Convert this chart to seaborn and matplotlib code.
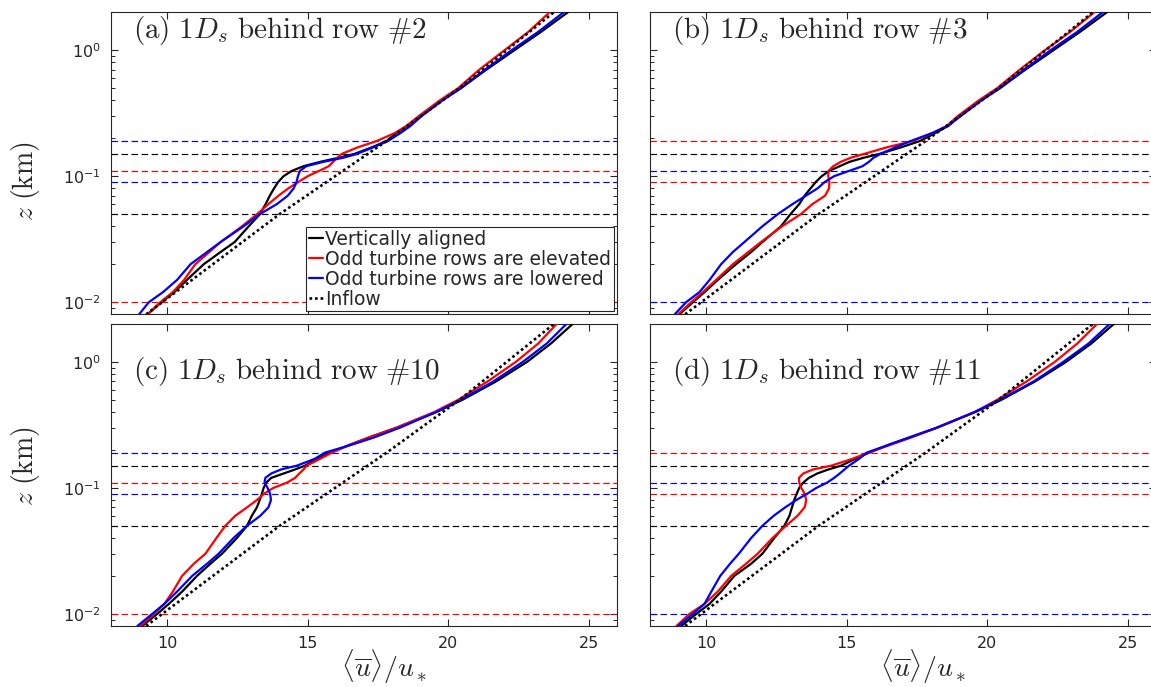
import numpy as np
import pandas as pd
import matplotlib
matplotlib.use("Agg")
import matplotlib.pyplot as plt
from matplotlib.lines import Line2D
from matplotlib.ticker import LogLocator, NullFormatter, FixedLocator
import seaborn as sns

# ---------------------------------------------------------------- data
# heights (km) at which the mean streamwise velocity profiles are given
z_km = [0.008, 0.010, 0.012, 0.015, 0.020, 0.025, 0.030, 0.040, 0.050, 0.060,
        0.070, 0.080, 0.090, 0.100, 0.110, 0.120, 0.130, 0.140, 0.150, 0.170,
        0.190, 0.220, 0.250, 0.300, 0.400, 0.500, 0.700, 1.000, 1.400, 2.000]

# inflow profile <u>/u*
inflow_z = [0.008, 0.050, 0.190, 0.500, 2.000]
inflow_u = [9.25, 14.00, 17.80, 20.40, 23.75]

# (a) 1 Ds behind row #2
row2_aligned = [9.30, 9.80, 10.25, 10.70, 11.30, 11.90, 12.40, 12.90, 13.30, 13.50,
                13.65, 13.80, 13.95, 14.14, 14.43, 14.85, 15.45, 16.10, 16.65, 17.30,
                17.80, 18.15, 18.55, 19.00, 19.75, 20.45, 21.35, 22.35, 23.30, 24.25]
row2_elevated = [9.30, 9.76, 10.20, 10.60, 11.00, 11.50, 11.90, 12.66, 13.20, 13.60,
                 13.96, 14.31, 14.67, 15.00, 15.40, 15.75, 15.90, 16.05, 16.20, 16.80,
                 17.45, 18.10, 18.50, 18.95, 19.70, 20.35, 21.10, 22.00, 22.85, 23.60]
row2_lowered = [9.00, 9.35, 9.85, 10.35, 10.83, 11.42, 11.90, 12.72, 13.30, 13.90,
                14.29, 14.50, 14.60, 14.65, 14.72, 14.95, 15.56, 16.26, 16.74, 17.35,
                17.85, 18.30, 18.65, 19.05, 19.80, 20.45, 21.30, 22.25, 23.20, 24.10]

# (b) 1 Ds behind row #3
row3_aligned = [9.05, 9.53, 9.94, 10.41, 11.06, 11.60, 12.00, 12.66, 13.00, 13.31,
                13.50, 13.71, 13.90, 14.11, 14.37, 14.75, 15.10, 15.60, 16.15, 16.95,
                17.60, 18.15, 18.60, 19.00, 19.75, 20.45, 21.35, 22.35, 23.30, 24.25]
row3_elevated = [9.00, 9.47, 9.88, 10.35, 10.95, 11.50, 11.95, 12.70, 13.37, 13.78,
                 14.23, 14.37, 14.38, 14.34, 14.35, 14.52, 14.79, 15.14, 15.61, 16.45,
                 17.35, 18.05, 18.55, 18.95, 19.70, 20.35, 21.15, 22.05, 22.95, 23.80]
row3_lowered = [8.88, 9.29, 9.76, 10.12, 10.53, 10.95, 11.36, 12.00, 12.55, 13.07,
                13.55, 13.96, 14.22, 14.55, 15.08, 15.56, 15.79, 15.95, 16.20, 16.74,
                17.27, 18.04, 18.60, 19.05, 19.80, 20.45, 21.30, 22.25, 23.20, 24.10]

# (c) 1 Ds behind row #10
row10_aligned = [9.11, 9.65, 10.06, 10.53, 11.06, 11.54, 11.95, 12.48, 12.84, 13.01,
                 13.19, 13.29, 13.37, 13.43, 13.52, 13.70, 14.14, 14.55, 14.90, 15.32,
                 15.79, 16.50, 17.15, 18.15, 19.57, 20.50, 21.70, 22.80, 23.65, 24.42]
row10_elevated = [9.05, 9.53, 9.90, 10.20, 10.53, 10.95, 11.36, 11.75, 12.07, 12.42,
                  12.84, 13.19, 13.45, 13.78, 14.26, 14.55, 14.70, 14.85, 14.96, 15.44,
                  15.85, 16.50, 17.15, 18.15, 19.50, 20.35, 21.40, 22.40, 23.20, 23.85]
row10_lowered = [8.94, 9.47, 9.90, 10.35, 10.89, 11.42, 11.83, 12.36, 12.84, 13.31,
                 13.60, 13.69, 13.66, 13.57, 13.46, 13.49, 13.70, 14.05, 14.61, 15.25,
                 15.60, 16.56, 17.33, 18.27, 19.57, 20.45, 21.60, 22.65, 23.50, 24.20]

# (d) 1 Ds behind row #11
row11_aligned = [9.11, 9.65, 10.12, 10.53, 11.00, 11.60, 12.00, 12.42, 12.78, 12.96,
                 13.05, 13.13, 13.22, 13.31, 13.45, 13.65, 13.95, 14.35, 14.80, 15.30,
                 15.79, 16.50, 17.20, 18.20, 19.57, 20.50, 21.70, 22.80, 23.70, 24.50]
row11_elevated = [8.94, 9.41, 9.94, 10.41, 10.89, 11.42, 11.83, 12.36, 12.84, 13.25,
                  13.50, 13.56, 13.50, 13.38, 13.31, 13.30, 13.45, 13.80, 14.45, 15.20,
                  15.75, 16.56, 17.27, 18.20, 19.55, 20.35, 21.40, 22.40, 23.20, 23.90]
row11_lowered = [9.00, 9.53, 9.94, 10.18, 10.50, 10.85, 11.16, 11.60, 12.00, 12.40,
                 12.81, 13.20, 13.60, 13.92, 14.30, 14.55, 14.75, 14.92, 15.08, 15.44,
                 15.70, 16.50, 17.20, 18.20, 19.55, 20.45, 21.65, 22.70, 23.60, 24.35]

# rotor bottom/top heights (km)
rotor_mid = [0.05, 0.15]
rotor_low = [0.01, 0.11]
rotor_high = [0.09, 0.19]

case_names = ["Vertically aligned", "Odd turbine rows are elevated",
              "Odd turbine rows are lowered"]
panel_titles = [r"$\mathrm{(a)\ 1}D_s\mathrm{\ behind\ row\ \#2}$",
                r"$\mathrm{(b)\ 1}D_s\mathrm{\ behind\ row\ \#3}$",
                r"$\mathrm{(c)\ 1}D_s\mathrm{\ behind\ row\ \#10}$",
                r"$\mathrm{(d)\ 1}D_s\mathrm{\ behind\ row\ \#11}$"]
x_ticks = [10, 15, 20, 25]

# ---------------------------------------------------------------- style
sns.set_style("ticks", {"xtick.direction": "in", "ytick.direction": "in",
                        "xtick.top": True, "ytick.right": True,
                        "axes.edgecolor": "#262626"})
plt.rcParams["font.family"] = ["DejaVu Sans"]
plt.rcParams["mathtext.fontset"] = "dejavusans"

INK = "#262626"
colors = {case_names[0]: "black", case_names[1]: "#ff0000", case_names[2]: "#0000ff"}
dotted = (0, (1.0, 1.1))

W, H = 1151, 687
fig = plt.figure(figsize=(W / 100, H / 100), dpi=100)

def px_axes(left, top, width=506, height=302):
    return fig.add_axes([left / W, (H - top - height) / H, width / W, height / H])

axes = [px_axes(111, 12.3), px_axes(650, 12.3), px_axes(111, 324), px_axes(650, 324)]

panels = [
    (row2_aligned, row2_elevated, row2_lowered, rotor_low, rotor_high),
    (row3_aligned, row3_elevated, row3_lowered, rotor_high, rotor_low),
    (row10_aligned, row10_elevated, row10_lowered, rotor_low, rotor_high),
    (row11_aligned, row11_elevated, row11_lowered, rotor_high, rotor_low),
]

for i, (ax, (al, el, lo, red_rotor, blue_rotor)) in enumerate(zip(axes, panels)):
    # rotor extents
    for zr, c in ((rotor_mid, "black"), (red_rotor, "#ff0000"), (blue_rotor, "#0000ff")):
        for zz in zr:
            ax.axhline(zz, color=c, lw=0.85, ls=(0, (5.5, 3.0)), zorder=1)

    df = pd.DataFrame({
        "u": al + el + lo,
        "z": z_km * 3,
        "case": [case_names[0]] * len(z_km) + [case_names[1]] * len(z_km)
                + [case_names[2]] * len(z_km),
    })
    sns.lineplot(data=df, x="u", y="z", hue="case", palette=colors,
                 hue_order=case_names, estimator=None, sort=False,
                 linewidth=1.6, legend=False, ax=ax, zorder=3)
    sns.lineplot(x=inflow_u, y=inflow_z, color="black", linewidth=1.9,
                 linestyle=dotted, estimator=None, sort=False,
                 ax=ax, zorder=4)

    ax.set_yscale("log")
    ax.set_xlim(8, 26)
    ax.set_ylim(0.008, 2)
    ax.xaxis.set_major_locator(FixedLocator(x_ticks))
    ax.yaxis.set_major_locator(LogLocator(base=10, numticks=10))
    ax.yaxis.set_minor_locator(LogLocator(base=10, subs=np.arange(2, 10), numticks=20))
    ax.yaxis.set_minor_formatter(NullFormatter())
    ax.tick_params(which="major", length=5, width=0.8, color=INK,
                   labelsize=11.5, labelcolor=INK, pad=7)
    ax.tick_params(which="minor", length=3, width=0.7, color=INK)
    for s in ax.spines.values():
        s.set_linewidth(0.8)
        s.set_color(INK)
    ax.set_xlabel("")
    ax.set_ylabel("")
    if i < 2:
        ax.tick_params(labelbottom=False)
    if i % 2 == 1:
        ax.tick_params(labelleft=False)

    ty = 0.9155 if i < 2 else 0.818
    ax.text(0.043, ty, panel_titles[i], transform=ax.transAxes, fontsize=21,
            math_fontfamily="cm", ha="left", va="baseline", color=INK)

# legend in the first panel
handles = [Line2D([], [], color="black", lw=1.6),
           Line2D([], [], color="#ff0000", lw=1.6),
           Line2D([], [], color="#0000ff", lw=1.6),
           Line2D([], [], color="black", lw=1.9, ls=dotted)]
leg = axes[0].legend(handles, case_names + ["Inflow"], loc="lower right",
                     fontsize=13.5, frameon=True, fancybox=False, framealpha=1,
                     edgecolor=INK, borderpad=0.15, labelspacing=0.05,
                     handlelength=0.75, handletextpad=0.15, borderaxespad=0.15)
leg.get_frame().set_linewidth(0.8)
leg.set_zorder(10)

# axis labels
for yc in (181, 466):
    fig.text(26 / W, (H - yc) / H, r"$z\ \mathrm{(km)}$", rotation=90,
             ha="center", va="center", fontsize=20, math_fontfamily="cm",
             color=INK)
for xc in (384, 923):
    fig.text(xc / W, (H - 677) / H, r"$\langle\overline{u}\rangle/u_*$",
             ha="center", va="baseline", fontsize=20, math_fontfamily="cm",
             color=INK)

fig.savefig("out.png", dpi=100)
